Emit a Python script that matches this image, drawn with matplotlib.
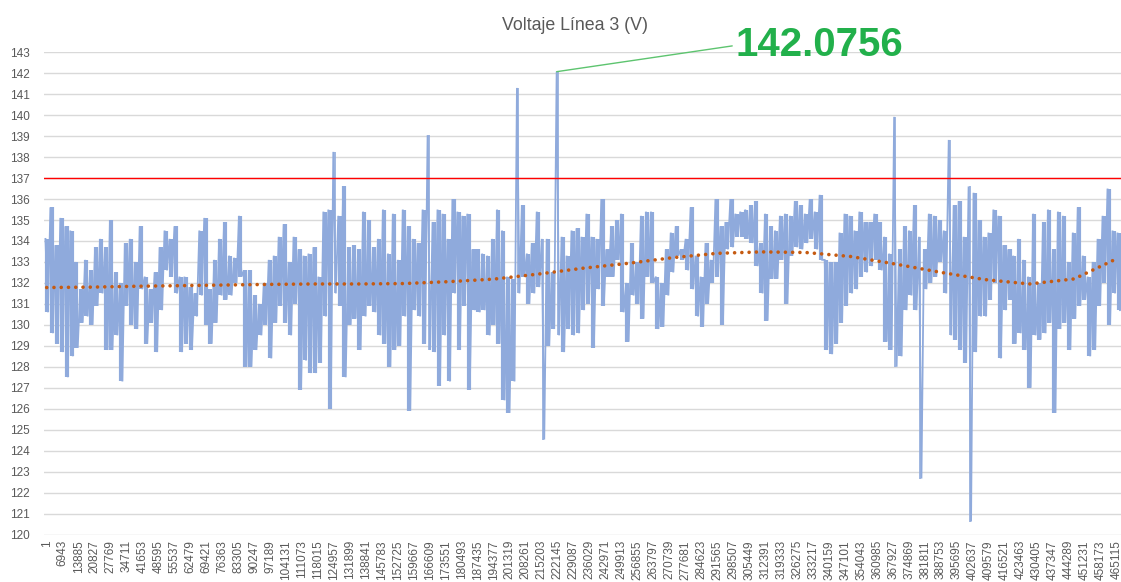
import matplotlib.pyplot as plt
import numpy as np

# Voltaje línea 3: envelope of the raw samples, column by column (max / min, V)
v_high = [
    134.1, 135.6, 133.8, 135.1, 134.7, 134.5, 133.0, 131.7, 133.1, 132.6,
    133.7, 134.1, 133.7, 135.0, 132.5, 132.0, 133.9, 134.1, 133.0, 134.7,
    132.3, 131.7, 132.5, 133.7, 134.5, 134.1, 134.7, 132.3, 132.3, 131.8,
    131.5, 134.5, 135.1, 131.7, 133.1, 134.1, 134.9, 133.3, 133.2, 135.2,
    132.6, 132.6, 131.4, 131.0, 132.0, 133.1, 133.3, 134.2, 134.8, 133.0,
    134.2, 133.6, 133.3, 133.4,
    133.7, 132.3, 135.4, 135.5, 138.25, 135.2, 136.6, 133.7, 133.8, 133.6,
    135.4, 135.0, 133.7, 134.1, 135.5, 133.4, 135.3, 133.1, 135.5, 134.7,
    134.1, 133.9, 135.5, 139.05, 134.9, 135.5, 135.3, 134.1, 136.0, 135.4,
    135.2, 135.3, 133.6, 133.6, 133.4, 133.3, 134.1, 135.5, 134.5, 132.3,
    132.2, 141.3, 135.7, 133.4, 133.9, 135.4, 134.1, 134.1, 132.5, 142.0756,
    134.2, 133.3, 134.5,
    134.6, 134.2, 135.3, 134.2, 134.1, 136.0, 133.6, 134.7, 135.0, 135.3,
    132.0, 133.9, 133.0, 135.2, 135.4, 135.4, 132.3, 132.0, 133.6, 134.4,
    134.7, 133.6, 134.1, 135.6, 133.3, 132.3, 133.9, 133.1, 136.0, 134.7,
    134.9, 136.0, 135.3, 135.4, 135.5, 135.7, 135.9, 133.9, 135.3, 134.7,
    134.5, 135.2, 135.3, 135.2, 135.9, 135.7, 135.3, 136.0, 135.4, 136.2,
    133.1, 133.0, 133.0, 134.4, 135.3,
    135.2, 134.5, 135.4, 134.9, 134.9, 135.3, 134.9, 134.2, 133.4, 139.92,
    133.6, 134.7, 134.5, 135.7, 134.2, 133.6, 135.3, 135.2, 135.0, 134.5,
    138.82, 135.7, 135.9, 134.2, 136.6, 136.3, 135.0, 134.2, 134.4, 135.5,
    135.2, 133.8, 133.6, 133.3, 134.1, 133.1, 132.3, 135.3, 132.0, 134.9,
    135.5, 133.6, 135.4, 135.2, 133.0, 134.4, 135.6, 133.3, 132.3, 133.0,
    134.1, 135.2, 136.5, 134.5, 134.4,
]
v_low = [
    130.6, 129.6, 129.1, 128.7, 127.5, 128.5, 128.9, 130.1, 130.4, 130.0,
    130.9, 131.5, 128.8, 128.8, 129.5, 127.3, 130.9, 130.0, 129.8, 131.7,
    129.1, 130.1, 128.7, 130.7, 132.6, 132.3, 131.5, 128.7, 129.1, 128.8,
    130.4, 131.4, 130.0, 129.1, 130.1, 131.4, 131.2, 131.4, 132.0, 132.3,
    128.0, 128.0, 128.8, 129.5, 130.0, 128.4, 130.1, 130.9, 130.1, 129.5,
    131.0, 126.9, 128.3, 127.7,
    127.7, 128.2, 130.4, 126.0, 131.5, 130.9, 127.5, 130.0, 130.3, 128.8,
    130.4, 130.9, 130.6, 129.5, 129.1, 128.0, 128.8, 129.0, 130.4, 125.9,
    130.7, 130.4, 129.1, 128.8, 128.7, 127.1, 129.5, 127.3, 131.5, 128.8,
    130.9, 126.9, 130.7, 130.6, 130.7, 129.5, 130.0, 129.1, 126.4, 125.8,
    127.3, 131.5, 132.3, 131.0, 131.5, 131.8, 124.53, 129.0, 129.8, 129.5,
    128.7, 129.8, 129.5,
    129.6, 130.7, 131.0, 128.9, 131.7, 130.9, 132.3, 132.3, 133.1, 130.6,
    129.2, 131.4, 131.0, 130.3, 132.3, 132.0, 129.8, 129.9, 131.4, 132.5,
    133.3, 133.1, 132.6, 131.7, 130.4, 129.9, 131.0, 132.0, 132.3, 130.0,
    133.6, 133.7, 134.2, 134.2, 134.1, 133.9, 132.8, 131.5, 130.2, 132.2,
    132.2, 133.1, 131.0, 133.3, 133.7, 133.6, 133.9, 134.1, 133.6, 133.1,
    128.8, 128.6, 129.1, 130.1, 130.9,
    131.5, 131.7, 132.3, 132.5, 132.8, 133.1, 132.6, 129.2, 128.8, 128.0,
    128.5, 130.7, 131.4, 130.7, 122.67, 131.7, 132.0, 132.3, 133.0, 131.5,
    129.5, 129.3, 128.8, 128.2, 120.62, 128.7, 130.4, 130.4, 131.2, 132.0,
    128.4, 130.7, 131.2, 129.1, 129.6, 128.8, 127.0, 129.5, 129.3, 129.6,
    130.1, 125.8, 129.8, 130.1, 128.8, 130.3, 130.9, 131.2, 128.5, 128.8,
    130.9, 132.0, 130.0, 131.5, 130.7,
]

# polynomial trend line, sampled evenly along the record
trend = [
    131.78, 131.80, 131.84, 131.87, 131.90, 131.93, 131.95, 131.95, 131.97,
    132.06, 132.18, 132.42, 132.70, 132.93, 133.20, 133.41, 133.48, 133.45,
    133.26, 132.90, 132.51, 132.16, 131.95, 132.19, 133.20,
]

n_last = 466000          # last sample index shown
tick_step = 6942         # category label spacing
limit_v = 137            # upper voltage limit
y_ticks = list(range(120, 144))

blue = "#8FAADC"
orange = "#C55A11"
green = "#22B04B"
grey_text = "#595959"

fig = plt.figure(figsize=(11.21, 5.82), dpi=100)
ax = fig.add_axes([44 / 1121, 1 - 534.5 / 582, 1 - 44 / 1121, (534.5 - 52.3) / 582])

cols = np.linspace(0, n_last, len(v_high))
step = cols[1] - cols[0]
hi = np.array(v_high)
lo = np.array(v_low)
xs = np.column_stack([cols - step / 4, cols + step / 4]).ravel()
ys = np.column_stack([hi, lo]).ravel()

# dense sample cloud: min-max bar per column (thin where a lone spike sits)
# plus the zig-zag trace running between them
spike = (hi > limit_v) | (lo < 125)
bar_w = np.where(spike, 1.2, 3.0)
ax.vlines(cols, lo, hi, color=blue, linewidths=bar_w, zorder=2)
ax.plot(xs, ys, color=blue, lw=1.3, solid_joinstyle="miter", zorder=2)

trend_x = np.linspace(0, n_last, len(trend))
ax.plot(trend_x, trend, color=orange, lw=2.6, linestyle=(0, (0.01, 2.0)),
        dash_capstyle="round", zorder=3)

ax.axhline(limit_v, color="#FF0000", lw=1.0, zorder=4)

# label the maximum reading
i_max = int(np.argmax(ys))
peak_v = ys[i_max]
ax.annotate(f"{peak_v:.4f}", xy=(xs[i_max], peak_v),
            xytext=(735 / 1121, 1 - 45.5 / 582), textcoords="figure fraction",
            ha="left", va="center", fontsize=29, fontweight="bold",
            family="Liberation Sans", color=green, annotation_clip=False,
            arrowprops=dict(arrowstyle="-", color="#5DC46F", lw=1.0,
                            shrinkA=0, shrinkB=0, relpos=(0, 0.5)))

ax.set_ylim(120, 143)
ax.set_xlim(-1170, 466990)
ax.set_yticks(y_ticks)
ax.set_yticklabels([str(v) for v in y_ticks], family="Liberation Sans",
                   fontsize=8.5, color=grey_text)
x_ticks = np.arange(1, n_last, tick_step)
ax.set_xticks(x_ticks)
ax.set_xticklabels([str(t) for t in x_ticks], rotation=90, va="top",
                   ha="center", family="Liberation Sans", fontsize=8.5,
                   color=grey_text)
ax.tick_params(axis="both", length=0)
ax.tick_params(axis="y", pad=10)
ax.tick_params(axis="x", pad=4)

ax.grid(axis="y", color="#D9D9D9", lw=1.0)
ax.set_axisbelow(True)
for side in ax.spines.values():
    side.set_visible(False)

fig.text(575 / 1121, 1 - 25 / 582, "Voltaje Línea 3 (V)", ha="center",
         va="center", fontsize=12.8, color=grey_text, family="Liberation Sans")

fig.savefig("out.png", dpi=100)
plt.close(fig)
